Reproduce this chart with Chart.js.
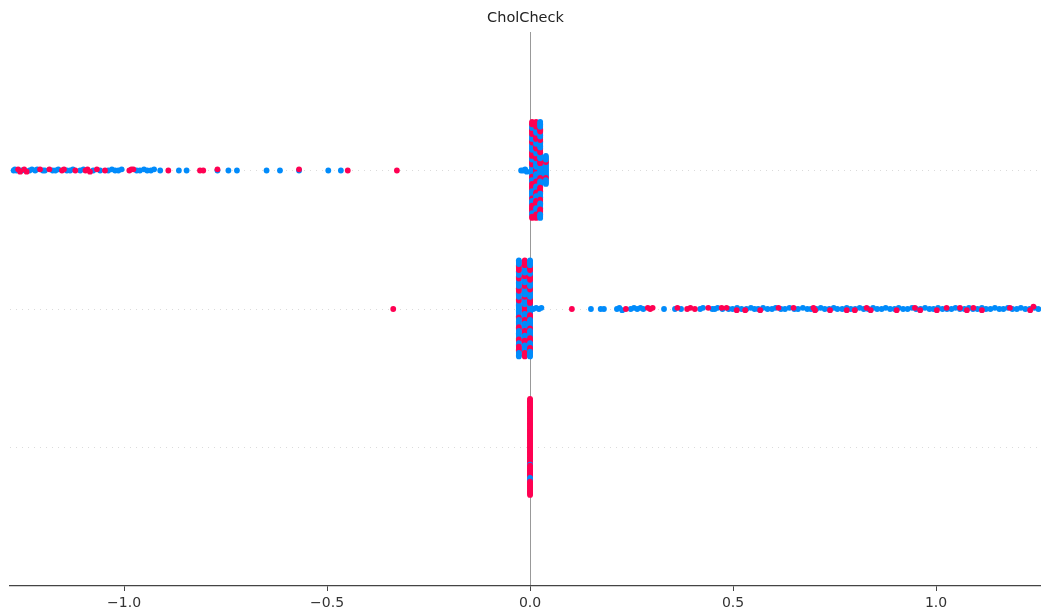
<!DOCTYPE html>
<html>
<head>
<meta charset="utf-8">
<script src="https://cdn.jsdelivr.net/npm/chart.js@4/dist/chart.umd.min.js"></script>
<style>
  html, body { margin: 0; padding: 0; background: #ffffff; overflow: hidden; }
  #c { display: block; }
</style>
</head>
<body>
<canvas id="c" width="1041" height="610"></canvas>
<script>
// ---- feature and axis --------------------------------------------------
const featureName = 'CholCheck';
const xTickValues = [-1.0, -0.5, 0.0, 0.5, 1.0];
const rowPositions = [2, 1, 0];           // top, middle, bottom rows

// ---- top row: dense column near zero + long negative tail ---------------
// column groups: SHAP value of the group, colour sequence (r = high, b = low)
const topClusterX = [0.005, 0.015, 0.025, 0.039];
const topClusterColours = [
  'bbbbbbbbb rrrrrrr bbbbbb rrrrrrrrrrr bbbbbbbbbbbb rrrrr bbbbbbbb rrrrrrrrrrr bbbbbb rrrrr',
  'rrrrr bbbbbbbbbbbbb rrrrrrrr bbbbbbbbb rrrrrrr bbbbbbbb rrrrrrrrrrr bbbbbbbbbb rrrrrrrrr',
  'bbbbbbbbbbb rrrrrrr bbbbbbbbbb rrrrrrrrr bbbbbbbbbbb rrrrrr bbbbbbbbb rrrrrrrr bbbbbbbbb',
  'bbbbbbbbbbbb rrrr bbbbbbbb'
];
const topTailLow = [
  -1.272, -1.269, -1.265, -1.252, -1.233, -1.227, -1.219, -1.214, -1.200, -1.195,
  -1.176, -1.169, -1.162, -1.141, -1.133, -1.126, -1.108, -1.100, -1.076, -1.059,
  -1.039, -1.030, -1.022, -1.014, -1.006, -0.969, -0.961, -0.951, -0.943, -0.934,
  -0.926, -0.911, -0.865, -0.846, -0.770, -0.743, -0.722, -0.649, -0.616, -0.569,
  -0.497, -0.466, -0.022, -0.017, -0.012, -0.008
];
const topTailHigh = [
  -1.261, -1.256, -1.246, -1.240, -1.207, -1.184, -1.153, -1.148, -1.120, -1.095,
  -1.090, -1.084, -1.067, -1.047, -0.987, -0.982, -0.977, -0.891, -0.813, -0.805,
  -0.770, -0.569, -0.449, -0.328
];

// ---- middle row: dense column just below zero + long positive tail ------
const midClusterX = [-0.0275, -0.013, 0.0];
const midClusterColours = [
  'bbbbbbbbbbbbb rrrrr bbbbbbbbbbb rrrrrrr bbbbbbbbbbbbb rrrrrr bbbbbbb rrrrrrrrrr bbbbbbbb',
  'rrrrrrr bbbbbbbbbbb rrrrr bbbbbbbbbbbbb rrrrrrr bbbbbbbbb rrrrrrr bbbbbbbbbbbb rrrrrrrrr',
  'bbbbbbbbb rrrrrrrrr bbbbbbbbbbbbb rrrrr bbbbbbbbbbb rrrrrrrrr bbbbbbb rrrrrrr bbbbbbbbbb'
];
const midTailLow = [
  0.008, 0.015, 0.022, 0.028, 0.150, 0.174, 0.182, 0.214, 0.220, 0.227,
  0.248, 0.256, 0.264, 0.272, 0.279, 0.330, 0.357, 0.372, 0.419, 0.426,
  0.449, 0.455, 0.462, 0.474, 0.489, 0.499, 0.510, 0.521, 0.533, 0.544,
  0.553, 0.562, 0.574, 0.585, 0.596, 0.605, 0.618, 0.628, 0.639, 0.651,
  0.660, 0.672, 0.683, 0.692, 0.705, 0.716, 0.726, 0.737, 0.748, 0.757,
  0.769, 0.780, 0.790, 0.801, 0.812, 0.822, 0.833, 0.845, 0.855, 0.866,
  0.876, 0.887, 0.898, 0.908, 0.919, 0.930, 0.941, 0.951, 0.962, 0.973,
  0.984, 0.994, 1.005, 1.016, 1.027, 1.038, 1.048, 1.059, 1.070, 1.081,
  1.091, 1.102, 1.113, 1.123, 1.134, 1.145, 1.156, 1.166, 1.177, 1.188,
  1.199, 1.209, 1.220, 1.231, 1.242, 1.252
];
const midTailHigh = [
  -0.337, 0.103, 0.236, 0.290, 0.296, 0.302, 0.363, 0.387, 0.395, 0.406,
  0.439, 0.472, 0.484, 0.509, 0.530, 0.567, 0.612, 0.649, 0.698, 0.702,
  0.739, 0.780, 0.800, 0.829, 0.839, 0.903, 0.948, 0.961, 1.002, 1.026,
  1.059, 1.076, 1.092, 1.113, 1.182, 1.232, 1.240
];

// ---- bottom row: every sample exactly at zero ---------------------------
const lowClusterX = [0.0];
const lowClusterColours = [
  'rrrrrrrrrr rrrrrrrrrr rrrrrrrrbr rrrrrrrrrr rrrrrrrrrr brbrbrrrrr rrrrrrrrrr rrrrrrrrrr'
];
const lowTailLow = [];
const lowTailHigh = [];

// ---- colours and swarm layout -------------------------------------------
const HIGH_COLOUR = '#ff0052';
const LOW_COLOUR = '#008bfb';
const N_BINS = 100;
const ROW_HEIGHT = 0.4;

// stack samples that fall in the same value bin, alternating above/below
function swarmOffsets(xs) {
  const lo = Math.min(...xs), hi = Math.max(...xs);
  const quant = xs.map(v => Math.round(N_BINS * (v - lo) / (hi - lo + 1e-8)));
  const order = xs.map((_, i) => i).sort((a, b) => (quant[a] - quant[b]) || (a - b));
  const ys = new Array(xs.length).fill(0);
  let layer = 0, lastBin = -1;
  for (const i of order) {
    if (quant[i] !== lastBin) layer = 0;
    ys[i] = Math.ceil(layer / 2) * ((layer % 2) * 2 - 1);
    layer += 1;
    lastBin = quant[i];
  }
  const top = Math.max(...ys.map(y => y + 1));
  return ys.map(y => y * 0.9 * (ROW_HEIGHT / top));
}

function buildRow(pos, clusterX, clusterColours, tailLow, tailHigh) {
  const xs = [], colours = [];
  clusterX.forEach((x, g) => {
    for (const ch of clusterColours[g].replace(/\s/g, '')) {
      xs.push(x);
      colours.push(ch === 'r' ? HIGH_COLOUR : LOW_COLOUR);
    }
  });
  tailLow.forEach(x => { xs.push(x); colours.push(LOW_COLOUR); });
  tailHigh.forEach(x => { xs.push(x); colours.push(HIGH_COLOUR); });
  const offs = swarmOffsets(xs);
  return {
    data: xs.map((x, i) => ({ x: x, y: pos + offs[i] })),
    backgroundColor: colours,
    pointRadius: 2.9,
    pointHoverRadius: 2.9,
    pointBorderWidth: 0,
    borderWidth: 0
  };
}

const datasets = [
  buildRow(rowPositions[0], topClusterX, topClusterColours, topTailLow, topTailHigh),
  buildRow(rowPositions[1], midClusterX, midClusterColours, midTailLow, midTailHigh),
  buildRow(rowPositions[2], lowClusterX, lowClusterColours, lowTailLow, lowTailHigh)
];

Chart.defaults.font.family = "'DejaVu Sans', sans-serif";

new Chart(document.getElementById('c').getContext('2d'), {
  type: 'scatter',
  data: { datasets: datasets },
  options: {
    responsive: false,
    devicePixelRatio: 1,
    animation: false,
    events: [],
    layout: { autoPadding: false, padding: { left: 10, right: 0, top: 0, bottom: 0 } },
    plugins: {
      legend: { display: false },
      tooltip: { enabled: false },
      title: {
        display: true,
        text: featureName,
        color: '#222222',
        font: { size: 14.5, weight: 'normal' },
        padding: { top: 10, bottom: 4.6 }
      }
    },
    scales: {
      x: {
        type: 'linear',
        position: 'bottom',
        min: -1.281,
        max: 1.2586,
        afterBuildTicks: s => { s.ticks = xTickValues.map(v => ({ value: v })); },
        afterFit: s => { s.height = 24; },
        ticks: {
          autoSkip: false,
          maxRotation: 0,
          padding: 4,
          color: '#333333',
          font: { size: 14 },
          callback: v => Number(v).toFixed(1).replace('-', '\u2212')
        },
        grid: {
          color: c => (c.tick && c.tick.value === 0) ? '#999999' : 'rgba(0,0,0,0)',
          lineWidth: 1,
          drawTicks: true,
          tickLength: 5,
          tickColor: '#444444',
          tickWidth: 1
        },
        border: { display: true, color: '#444444', width: 1.3 }
      },
      y: {
        type: 'linear',
        min: -1,
        max: 3,
        afterBuildTicks: s => { s.ticks = rowPositions.map(v => ({ value: v })); },
        afterFit: s => { s.width = 0; },
        ticks: { display: false },
        grid: { color: '#cccccc', lineWidth: 0.7, drawTicks: false },
        border: { display: false, dash: [1, 5] }
      }
    }
  }
});
</script>
</body>
</html>
